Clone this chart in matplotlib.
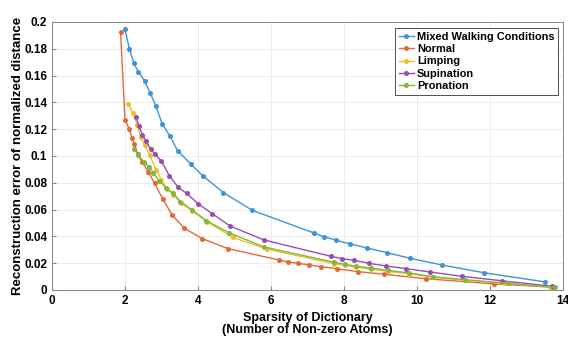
import matplotlib
matplotlib.use('Agg')
import matplotlib.pyplot as plt

plt.rcParams['font.family'] = ['Liberation Sans', 'DejaVu Sans']
plt.rcParams['font.weight'] = 'bold'

mixed_x = [2.0, 2.12, 2.25, 2.36, 2.54, 2.69, 2.85, 3.02, 3.23, 3.44, 3.80, 4.13, 4.70,
           5.49, 7.18, 7.45, 7.77, 8.17, 8.64, 9.17, 9.82, 10.68, 11.83, 13.52]
mixed_y = [0.1945, 0.180, 0.169, 0.163, 0.156, 0.147, 0.137, 0.124, 0.115, 0.104, 0.094, 0.0853, 0.0726,
           0.0594, 0.0425, 0.0398, 0.0373, 0.0343, 0.0313, 0.0279, 0.0236, 0.0187, 0.0129, 0.006]

normal_x = [1.88, 2.0, 2.12, 2.19, 2.26, 2.35, 2.47, 2.64, 2.81, 3.04, 3.30, 3.63, 4.12, 4.83,
            6.22, 6.47, 6.74, 7.05, 7.37, 7.80, 8.38, 9.11, 10.25, 12.12, 13.69]
normal_y = [0.1925, 0.127, 0.120, 0.1137, 0.1087, 0.1015, 0.0953, 0.0883, 0.0796, 0.0677, 0.0557, 0.046, 0.0383, 0.0308,
            0.0224, 0.0209, 0.0199, 0.0187, 0.0174, 0.0159, 0.0137, 0.0117, 0.0084, 0.0045, 0.0022]

limping_x = [2.09, 2.21, 2.34, 2.43, 2.54, 2.68, 2.85, 3.0, 3.15, 3.33, 3.53, 3.85, 4.25, 4.95,
             5.90, 7.73, 8.03, 8.34, 8.75, 9.21, 9.78, 10.45, 11.31, 12.4, 13.66]
limping_y = [0.139, 0.1323, 0.1229, 0.114, 0.108, 0.1005, 0.0898, 0.0819, 0.0755, 0.0712, 0.065, 0.059, 0.051, 0.0393,
             0.0304, 0.0197, 0.0183, 0.0169, 0.0155, 0.0139, 0.0121, 0.0094, 0.0073, 0.005, 0.002]

supination_x = [2.30, 2.38, 2.48, 2.58, 2.70, 2.83, 3.0, 3.22, 3.45, 3.69, 4.01, 4.39, 4.88,
                5.81, 7.65, 7.95, 8.28, 8.69, 9.15, 9.71, 10.37, 11.23, 12.32, 13.69]
supination_y = [0.1294, 0.1224, 0.1157, 0.111, 0.105, 0.1012, 0.096, 0.0851, 0.0769, 0.0721, 0.0642, 0.057, 0.0477,
                0.0373, 0.0251, 0.0234, 0.0221, 0.0199, 0.0179, 0.0159, 0.0134, 0.0102, 0.0069, 0.0028]

pronation_x = [2.26, 2.35, 2.53, 2.66, 2.78, 2.93, 3.13, 3.32, 3.52, 3.84, 4.23, 4.85,
               5.81, 7.73, 8.03, 8.34, 8.75, 9.21, 9.78, 10.45, 11.31, 12.49, 13.78]
pronation_y = [0.105, 0.101, 0.0953, 0.0916, 0.0876, 0.0816, 0.0761, 0.0721, 0.066, 0.0597, 0.0517, 0.0427,
               0.0321, 0.0207, 0.0192, 0.0177, 0.0164, 0.0146, 0.0127, 0.0099, 0.0077, 0.005, 0.002]

series = [
    ('Mixed Walking Conditions', mixed_x, mixed_y, '#3F93D6'),
    ('Normal', normal_x, normal_y, '#E5683A'),
    ('Limping', limping_x, limping_y, '#EDBE2C'),
    ('Supination', supination_x, supination_y, '#9A4DB0'),
    ('Pronation', pronation_x, pronation_y, '#80B83E'),
]

fig = plt.figure(figsize=(5.68, 3.37), dpi=100)
ax = fig.add_axes([0.0915, 0.1395, 0.8995, 0.7955])

for name, xs, ys, col in series:
    ax.plot(xs, ys, '-o', color=col, lw=1.0, ms=2.6, label=name)

ax.set_xlim(0, 14)
ax.set_ylim(0, 0.2)
ax.set_xticks(range(0, 15, 2))
ax.set_yticks([0, 0.02, 0.04, 0.06, 0.08, 0.1, 0.12, 0.14, 0.16, 0.18, 0.2])
ax.set_yticklabels(['0', '0.02', '0.04', '0.06', '0.08', '0.1', '0.12', '0.14', '0.16', '0.18', '0.2'])
ax.grid(True, color='#EBEBEB', lw=0.7)
ax.set_axisbelow(True)
ax.tick_params(labelsize=8.5, length=3, direction='in', color='#888888')
for s in ax.spines.values():
    s.set_color('#888888')
    s.set_linewidth(0.7)

ax.set_xlabel('Sparsity of Dictionary\n(Number of Non-zero Atoms)', fontsize=9, fontweight='bold', linespacing=1.0)
ax.set_ylabel('Reconstruction error of normalized distance', fontsize=9.5, fontweight='bold', labelpad=0)

leg = ax.legend(loc='upper right', bbox_to_anchor=(0.995, 0.985), fontsize=7.9, handlelength=1.3,
                handletextpad=0.3, labelspacing=0.2, borderpad=0.35, fancybox=False, framealpha=1,
                edgecolor='#333333', borderaxespad=0.2)
leg.get_frame().set_linewidth(0.6)

fig.savefig('out.png', dpi=100)
